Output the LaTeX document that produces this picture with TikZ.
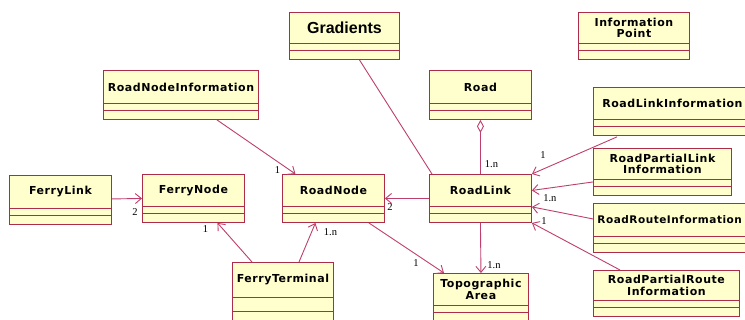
\documentclass[tikz,border=0pt]{standalone}
\usepackage{fontspec}
\usetikzlibrary{arrows.meta, positioning}
\newfontfamily\clsfont{DejaVu Sans}[LetterSpace=5]
\newfontfamily\gradfont{Liberation Sans}
\newfontfamily\multfont{Liberation Serif}
\definecolor{clsedge}{RGB}{172,44,74}
\definecolor{clsfill}{RGB}{255,255,206}
\definecolor{linkcol}{RGB}{190,62,108}
\tikzset{
        umlclass/.style={draw=clsedge, fill=clsfill, line width=0.9pt, anchor=north west,
                inner sep=2pt, align=center, minimum height=32pt,
                font=\clsfont\bfseries\fontsize{11}{11.5}\selectfont},
        compart/.style={draw=clsedge, fill=clsfill, line width=0.9pt},
        assoc/.style={draw=linkcol, line width=0.9pt, -{Straight Barb[length=6pt,width=10pt]}},
        aggr/.style={draw=linkcol, line width=0.9pt, -{Diamond[open,length=13pt,width=7pt,fill=white]}},
        mult/.style={font=\multfont\fontsize{10.5}{11}\selectfont, inner sep=0pt}
        }
\begin{document}
\begin{tikzpicture}[x=1pt, y=-1pt]
        \clip (0,0) rectangle (745,320);
        % classes
        \node[umlclass, minimum width=110pt, minimum height=31pt,
              font=\gradfont\bfseries\fontsize{16}{17}\selectfont] (grad) at (289,12) {Gradients};
        \node[umlclass, minimum width=111pt, minimum height=31pt] (infopt) at (578,12) {Information\\Point};
        \node[umlclass, minimum width=155pt, minimum height=33pt] (rni) at (103,70) {RoadNodeInformation};
        \node[umlclass, minimum width=102pt, minimum height=33pt] (road) at (429,70) {Road};
        \node[umlclass, minimum width=158pt] (rli) at (593,87) {RoadLinkInformation};
        \node[umlclass, minimum width=138pt, minimum height=31pt] (rpli) at (593,148) {RoadPartialLink\\Information};
        \node[umlclass, minimum height=33pt, text width=150pt, align=left, inner xsep=4pt,
              font=\clsfont\bfseries\fontsize{10.5}{11.5}\selectfont] (rri) at (593,203) {RoadRouteInformation};
        \node[umlclass, minimum width=146pt, minimum height=30pt] (rpri) at (593,270) {RoadPartialRoute\\Information};
        \node[umlclass, minimum width=102pt] (rl) at (429,174) {RoadLink};
        \node[umlclass, minimum width=95pt] (topo) at (433,273) {Topographic\\Area};
        \node[umlclass, minimum width=102pt, minimum height=33pt] (flink) at (9,175) {FerryLink};
        \node[umlclass, minimum width=102pt] (fnode) at (142,174) {FerryNode};
        \node[umlclass, minimum width=102pt] (rnode) at (282,174) {RoadNode};
        \node[umlclass, minimum width=101pt, minimum height=35pt] (fterm) at (232,262) {FerryTerminal};
        % attribute and operation compartments
        \foreach \c in {grad,infopt,rni,road,rli,rpli,rri,rpri,rl,topo,flink,fnode,rnode}
          \draw[compart] (\c.south west) rectangle ([yshift=-7pt]\c.south east)
                rectangle ([yshift=-16pt]\c.south west);
        \draw[compart] (fterm.south west) rectangle ([yshift=-14pt]fterm.south east)
                rectangle ([yshift=-30pt]fterm.south west);
        % associations
        \draw[draw=linkcol, line width=0.9pt] ([xshift=15pt, yshift=-16pt]grad.south) -- ([xshift=3pt]rl.north west);
        \draw[assoc] ([xshift=36pt, yshift=-16pt]rni.south) -- ([xshift=-38pt]rnode.north)
              node[mult, at end, shift={(-18,-4)}]{1};
        \draw[aggr] (rl.north) -- ([yshift=-16pt]road.south)
              node[mult, at start, shift={(11,-10)}]{1.n};
        \draw[assoc] ([xshift=24pt, yshift=-17pt]rli.south west) -- (rl.north east)
              node[mult, at end, shift={(11,-19)}]{1};
        \draw[assoc] ([yshift=-18pt]rpli.west) -- (rl.east)
              node[mult, at end, shift={(18,8)}]{1.n};
        \draw[assoc] ([yshift=1pt]rri.west) -- (rl.south east)
              node[mult, at end, shift={(12,14)}]{1};
        \draw[assoc] ([xshift=27pt]rpri.north west) -- ([yshift=-16pt]rl.south east);
        \draw[assoc] ([yshift=-8pt]rl.west) -- ([yshift=-8pt]rnode.east)
              node[mult, at end, shift={(5,9)}]{2};
        \draw[assoc] ([yshift=-16pt]rl.south) -- (topo.north)
              node[mult, at end, shift={(13,-8)}]{1.n};
        \draw[assoc] ([xshift=-16pt, yshift=-16pt]rnode.south east) -- ([xshift=11pt]topo.north west)
              node[mult, at end, shift={(-28,-10)}]{1};
        \draw[assoc] ([yshift=-7pt]flink.east) -- ([yshift=-8pt]fnode.west)
              node[mult, at end, shift={(-7,14)}]{2};
        \draw[assoc] ([xshift=20pt]fterm.north west) -- ([xshift=24pt, yshift=-16pt]fnode.south)
              node[mult, at end, shift={(-12,6)}]{1};
        \draw[assoc] ([xshift=67pt]fterm.north west) -- ([xshift=-18pt, yshift=-16pt]rnode.south)
              node[mult, at end, shift={(15,9)}]{1.n};
\end{tikzpicture}
\end{document}
